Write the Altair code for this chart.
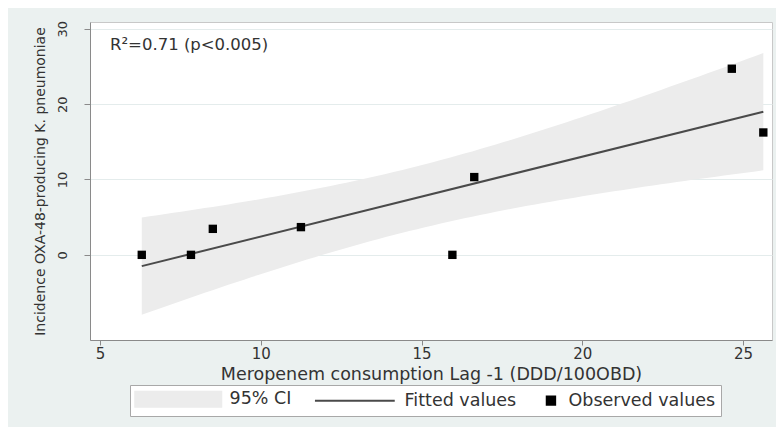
import altair as alt
import numpy as np
import pandas as pd

meropenem = [6.30, 7.83, 8.51, 11.25, 15.96, 16.64, 24.65, 25.63]
incidence = [0.0, 0.0, 3.45, 3.68, 0.0, 10.32, 24.70, 16.24]
series_names = ["95% CI", "Fitted values", "Observed values"]
series_colors = ["#ececec", "#4a4a4a", "#000000"]
x_ticks = [5, 10, 15, 20, 25]
y_ticks = [0, 10, 20, 30]
annotation = "R²=0.71 (p<0.005)"
x_title = "Meropenem consumption Lag -1 (DDD/100OBD)"
y_title = "Incidence OXA-48-producing K. pneumoniae"

# Linear fit and 95% CI of the mean prediction (as Stata's lfitci)
xo = np.array(meropenem)
yo = np.array(incidence)
n = len(xo)
slope, intercept = np.polyfit(xo, yo, 1)
resid = yo - (intercept + slope * xo)
s = np.sqrt((resid ** 2).sum() / (n - 2))
sxx = ((xo - xo.mean()) ** 2).sum()
t_crit = 2.446912  # t(0.975, df=6)
xg = np.linspace(xo.min(), xo.max(), 80)
fit_g = intercept + slope * xg
half = t_crit * s * np.sqrt(1.0 / n + (xg - xo.mean()) ** 2 / sxx)

band_df = pd.DataFrame({"x": xg, "lo": fit_g - half, "hi": fit_g + half, "series": series_names[0]})
line_df = pd.DataFrame({"x": [xo.min(), xo.max()],
                        "fit": [intercept + slope * xo.min(), intercept + slope * xo.max()],
                        "series": series_names[1]})
pts_df = pd.DataFrame({"x": meropenem, "y": incidence, "series": series_names[2]})

FONT = "DejaVu Sans"

# legend key shapes (Stata style: wide CI swatch, long line, small square)
shape_expr = (
    "datum.value == '95% CI' ? 'M-1.417,-1.25H12.917V1.25H-1.417Z' : "
    "(datum.value == 'Fitted values' ? 'M-12.3,0H1' : 'M0.5,-0.7H1.9V0.7H0.5Z')"
)
color_expr = "scale('color', datum.value)"
label_offset_expr = "datum.value == '95% CI' ? 77 : (datum.value == 'Fitted values' ? 7 : 16)"

legend = alt.Legend(
    title=None,
    orient="none",
    legendX=40,
    legendY=363,
    direction="horizontal",
    symbolSize=144,
    symbolStrokeWidth=2,
    symbolType=alt.ExprRef(expr=shape_expr),
    symbolFillColor=alt.ExprRef(expr=color_expr),
    symbolStrokeColor=alt.ExprRef(expr=color_expr),
    symbolOpacity=1,
    labelFont=FONT,
    labelFontSize=17.5,
    labelColor="#333333",
    labelOffset=alt.ExprRef(expr=label_offset_expr),
    columnPadding=18,
    padding=5,
    strokeColor="#a8a8a8",
    fillColor="white",
)

color = alt.Color(
    "series:N",
    scale=alt.Scale(domain=series_names, range=series_colors),
    legend=legend,
)

xscale = alt.Scale(domain=[4.69, 25.9], nice=False, zero=False)
yscale = alt.Scale(domain=[-11.3, 30.9], nice=False, zero=False)

xaxis = alt.Axis(
    values=x_ticks, title=x_title, grid=False,
    labelFont=FONT, labelFontSize=15, labelColor="#333333",
    titleFont=FONT, titleFontSize=17.5, titleColor="#333333", titleFontWeight="normal",
    tickSize=5, tickColor="#8a8a8a", domainColor="#8a8a8a",
    labelPadding=1, titlePadding=4,
)
yaxis = alt.Axis(
    values=y_ticks, title=y_title, grid=True, gridColor="#e4ecec",
    labelFont=FONT, labelFontSize=13, labelColor="#333333",
    labelAngle=270, labelAlign="center", labelBaseline="bottom",
    titleFont=FONT, titleFontSize=14, titleColor="#333333", titleFontWeight="normal",
    tickSize=6, tickColor="#8a8a8a", domainColor="#8a8a8a",
    labelPadding=15, titlePadding=9,
)

band = alt.Chart(band_df).mark_area(opacity=1).encode(
    x=alt.X("x:Q", scale=xscale, axis=xaxis),
    y=alt.Y("lo:Q", scale=yscale, axis=yaxis),
    y2="hi:Q",
    color=color,
)

line = alt.Chart(line_df).mark_line(strokeWidth=2).encode(
    x=alt.X("x:Q", scale=xscale),
    y=alt.Y("fit:Q", scale=yscale),
    color=color,
)

pts = alt.Chart(pts_df).mark_square(size=70, opacity=1).encode(
    x=alt.X("x:Q", scale=xscale),
    y=alt.Y("y:Q", scale=yscale),
    color=color,
)

txt = alt.Chart(pd.DataFrame({"t": [annotation]})).mark_text(
    font=FONT, fontSize=16.5, color="#333333", align="left", baseline="middle"
).encode(x=alt.value(20), y=alt.value(23), text="t:N")

chart = (
    alt.layer(band, line, pts, txt)
    .properties(
        width=682,
        height=318,
        padding={"left": 82, "top": 14, "right": 4, "bottom": 87},
        autosize="none",
        background="#ebf1f0",
    )
    .configure_view(stroke="#c8c8c8", fill="white")
)

chart.save("out.html", embed_options={"renderer": "svg", "actions": False})
